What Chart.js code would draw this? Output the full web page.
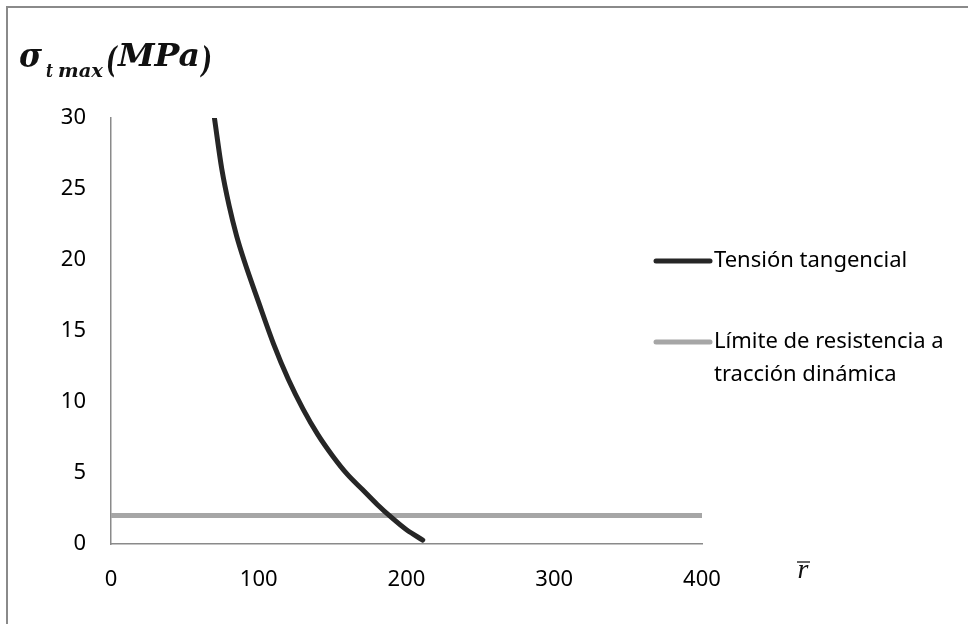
<!DOCTYPE html>
<html>
<head>
<meta charset="utf-8">
<script src="https://cdn.jsdelivr.net/npm/chart.js@4/dist/chart.umd.min.js"></script>
<style>
  html, body { margin: 0; padding: 0; background: #fff; }
  #wrap { position: relative; width: 968px; height: 624px; }
  #frame { position: absolute; left: 6px; top: 6px; width: 970px; height: 630px;
           border-left: 2px solid #8a8a8a; border-top: 2px solid #8a8a8a; }
  canvas { position: absolute; left: 0; top: 0; }
</style>
</head>
<body>
<div id="wrap">
  <div id="frame"></div>
  <canvas id="chart" width="968" height="624"></canvas>
</div>
<script>
// radio adimensional r̄ y tensión tangencial máxima (MPa)
const rValues = [70, 75, 80, 85, 90, 100, 110, 120, 130, 140, 150, 160, 170, 180, 190, 200, 211];
const tensionValues = [30, 26.4, 23.8, 21.7, 20.0, 17.0, 14.1, 11.6, 9.5, 7.7, 6.2, 4.9, 3.85, 2.8, 1.85, 1.0, 0.28];
// límite de resistencia a tracción dinámica (constante)
const limiteR = [0, 400];
const limiteValues = [2, 2];

const seriesLabels = ['Tensión tangencial', 'Límite de resistencia a tracción dinámica'];
const xTicks = [0, 100, 200, 300, 400];
const yTicks = [0, 5, 10, 15, 20, 25, 30];

const TEXT_FONT = '"Noto Sans", sans-serif';

// Helper: draws text squeezed/stretched to a given width
function fitText(ctx, text, x, y, width) {
    const w = ctx.measureText(text).width;
    ctx.save();
    ctx.translate(x, y);
    ctx.scale(width / w, 1);
    ctx.fillText(text, 0, 0);
    ctx.restore();
}

// Axis titles and legend drawn by hand (Excel style)
const decorPlugin = {
    id: 'decor',
    afterDraw(chart) {
        const ctx = chart.ctx;
        ctx.save();
        ctx.fillStyle = '#111';
        ctx.textAlign = 'left';
        ctx.textBaseline = 'alphabetic';

        // y axis title: σ_t max (MPa)
        ctx.font = 'bold italic 34px "DejaVu Serif"';
        fitText(ctx, 'σ', 19, 67, 23);
        ctx.font = 'bold italic 19px "DejaVu Serif"';
        fitText(ctx, 't', 46, 77, 7);
        fitText(ctx, 'max', 58, 77, 45);
        ctx.font = 'bold italic 36px "DejaVu Serif"';
        fitText(ctx, '(', 106, 72, 11);
        fitText(ctx, ')', 201, 72, 11);
        ctx.font = 'bold italic 32px "DejaVu Serif"';
        fitText(ctx, 'MPa', 118, 66, 82);

        // x axis title: r̄
        ctx.font = 'italic 28px "Liberation Serif"';
        ctx.textAlign = 'center';
        ctx.fillText('r', 803, 578);
        ctx.strokeStyle = '#111';
        ctx.lineWidth = 1.3;
        ctx.beginPath();
        ctx.moveTo(797, 562);
        ctx.lineTo(810, 562);
        ctx.stroke();

        // legend
        const items = [
            { y: 261, lines: ['Tensión tangencial'] },
            { y: 342, lines: ['Límite de resistencia a', 'tracción dinámica'] }
        ];
        ctx.textAlign = 'left';
        ctx.textBaseline = 'middle';
        ctx.font = '22px ' + TEXT_FONT;
        items.forEach((item, i) => {
            const ds = chart.data.datasets[i];
            ctx.strokeStyle = ds.borderColor;
            ctx.lineWidth = ds.borderWidth;
            ctx.lineCap = 'round';
            ctx.beginPath();
            ctx.moveTo(656, item.y);
            ctx.lineTo(710, item.y);
            ctx.stroke();
            ctx.fillStyle = '#000';
            item.lines.forEach((t, k) => ctx.fillText(t, 714, item.y + k * 33));
        });
        ctx.restore();
    }
};

new Chart(document.getElementById('chart'), {
    type: 'scatter',
    data: {
        datasets: [
            {
                label: seriesLabels[0],
                data: rValues.map((r, i) => ({ x: r, y: tensionValues[i] })),
                showLine: true,
                borderColor: '#262626',
                borderWidth: 5,
                pointRadius: 0,
                cubicInterpolationMode: 'monotone',
                borderCapStyle: 'round'
            },
            {
                label: seriesLabels[1],
                data: limiteR.map((r, i) => ({ x: r, y: limiteValues[i] })),
                showLine: true,
                borderColor: '#a6a6a6',
                borderWidth: 5,
                pointRadius: 0
            }
        ]
    },
    options: {
        responsive: false,
        animation: false,
        layout: { padding: { left: 0, right: 266, top: 118, bottom: 0 } },
        plugins: {
            legend: { display: false },
            tooltip: { enabled: false }
        },
        scales: {
            x: {
                type: 'linear',
                min: 0,
                max: 400,
                afterBuildTicks: s => { s.ticks = xTicks.map(v => ({ value: v })); },
                afterFit: s => { s.height = 80; },
                ticks: { color: '#000', font: { family: TEXT_FONT, size: 22 }, padding: 23, maxRotation: 0 },
                grid: { display: false, drawTicks: false },
                border: { display: true, color: '#8a8a8a', width: 1.5 }
            },
            y: {
                min: 0,
                max: 30,
                afterBuildTicks: s => { s.ticks = yTicks.map(v => ({ value: v })); },
                afterFit: s => { s.width = 111; },
                ticks: { color: '#000', font: { family: TEXT_FONT, size: 22 }, padding: 25 },
                grid: { display: false, drawTicks: false },
                border: { display: true, color: '#8a8a8a', width: 1.5 }
            }
        }
    },
    plugins: [decorPlugin]
});
</script>
</body>
</html>
